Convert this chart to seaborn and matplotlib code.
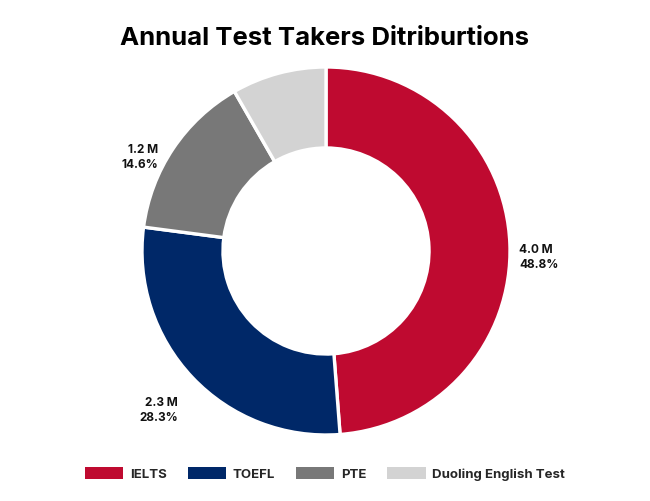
import numpy as np
import matplotlib
matplotlib.use("Agg")
import matplotlib.pyplot as plt
from matplotlib.patches import Patch
import seaborn as sns

# data
tests = ["IELTS", "TOEFL", "PTE", "Duoling English Test"]
takers_m = [4.0, 2.32, 1.2, 0.68]
colors = ["#BF0A30", "#002868", "#787878", "#D3D3D3"]

sns.set_theme(style="white")
plt.rcParams['font.family'] = ['Inter', 'DejaVu Sans']

fig = plt.figure(figsize=(6.5, 5.01), dpi=100)
# donut centre at (326, 251) px, outer radius 184 px
half = 240
ax = fig.add_axes([(326 - half) / 650, (501 - 251 - half) / 501, 2 * half / 650, 2 * half / 501])

wedges, _ = ax.pie(takers_m, colors=colors, startangle=90, counterclock=False, radius=1.0,
                   wedgeprops=dict(width=0.44, edgecolor='white', linewidth=2.4))
lim = half / 184
ax.set_xlim(-lim, lim)
ax.set_ylim(-lim, lim)
ax.set_aspect('equal')
ax.axis('off')

# value labels outside the ring (small slice left unlabeled)
total = sum(takers_m)
for w, v in zip(wedges, takers_m):
    pct = v / total * 100
    if pct < 10:
        continue
    ang = np.deg2rad((w.theta1 + w.theta2) / 2)
    dx, dy = np.cos(ang), np.sin(ang)
    ha = 'left' if dx > 0 else 'right'
    r = 1.05 if abs(dy) < 0.6 else 1.15
    if dx > 0:
        off = (0, 0)
    elif dy > 0:
        off = (-5, 0)
    else:
        off = (4, 0)
    ax.annotate(f"{v:.1f} M\n{pct:.1f}%", (r * dx, r * dy), xytext=off, textcoords='offset points',
                ha=ha, va='top', fontsize=8.5, fontweight='bold', color='#111111',
                linespacing=1.35)

fig.text(0.5, 0.924, "Annual Test Takers Ditriburtions", ha='center', va='center',
         fontsize=18.5, fontweight='bold', color='black')

handles = [Patch(facecolor=c, edgecolor='none') for c in colors]
leg = fig.legend(handles, tests, loc='center', bbox_to_anchor=(0.5, 1 - 474 / 501), ncol=4,
                 frameon=False, handlelength=2.9, handleheight=0.95, handletextpad=0.5,
                 columnspacing=1.6, prop=dict(weight='bold', size=9.5))

fig.savefig("out.png", dpi=100)
